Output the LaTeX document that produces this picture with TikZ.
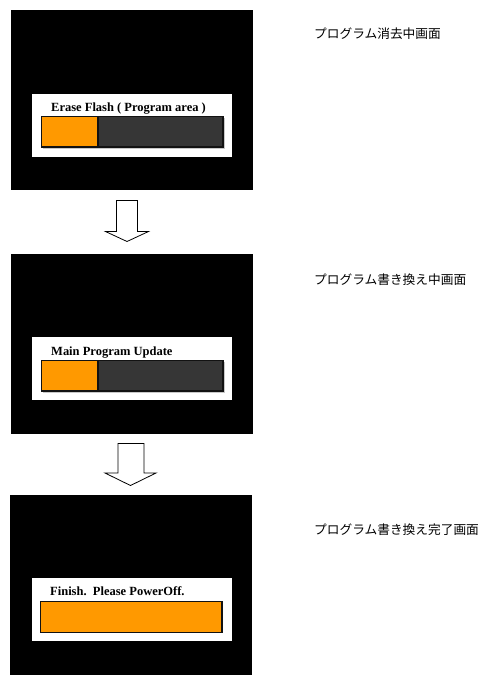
\documentclass[tikz,border=0pt]{standalone}
\usepackage{fontspec}
\newfontfamily\jpfont{Noto Sans CJK JP}
\newfontfamily\panelfont{Liberation Serif}
\definecolor{barorange}{HTML}{FF9900}
\definecolor{bargray}{HTML}{363636}
\definecolor{barshadow}{HTML}{C8C8C8}
\begin{document}
\begin{tikzpicture}[x=1pt,y=-1pt,
  screen/.style={fill=black,draw=none,inner sep=0pt,outer sep=0pt,anchor=north west,minimum width=242pt,minimum height=180pt},
  panel/.style={fill=white,draw=none,inner sep=0pt,outer sep=0pt,anchor=north west,minimum width=200pt,minimum height=63pt},
  paneltext/.style={anchor=base west,inner sep=0pt,font=\panelfont\bfseries\fontsize{12.5}{14}\selectfont},
  label/.style={anchor=base west,inner sep=0pt,font=\jpfont\fontsize{12.7}{15}\selectfont},
  bararrow/.style={fill=white,draw=black,line width=0.8pt,line join=miter},
  barframe/.style={draw=black!93,line width=1.6pt}
]
\useasboundingbox (0,0) rectangle (488,686);

% ---- screen 1
\node[screen] (s1) at (11,10) {};
\node[panel] (p1) at (32,93.5) {};
\node[paneltext] (t1) at (51,111) {Erase Flash ( Program area )};
\fill[barshadow] (42.5,117.5) rectangle (224.5,148.5);
\fill[bargray] (41.5,116.5) rectangle (223,147);
\fill[barorange] (41.5,116.5) rectangle (98,147);
\draw[barframe] (98,116.5) -- (98,147);
\draw[barframe] (41.5,116.5) rectangle (223,147);
\node[label] (l1) at (314,38) {プログラム消去中画面};

% ---- arrow 1
\draw[bararrow] (116.5,200.5) -- (137.5,200.5) -- (137.5,231.5) -- (148.5,231.5)
  -- (127,241.5) -- (105.5,231.5) -- (116.5,231.5) -- cycle;

% ---- screen 2
\node[screen] (s2) at (11,254) {};
\node[panel] (p2) at (32,337) {};
\node[paneltext] (t2) at (51,355) {Main Program Update};
\fill[barshadow] (42.5,361.5) rectangle (224.5,392.5);
\fill[bargray] (41.5,360.5) rectangle (223,391);
\fill[barorange] (41.5,360.5) rectangle (98,391);
\draw[barframe] (98,360.5) -- (98,391);
\draw[barframe] (41.5,360.5) rectangle (223,391);
\node[label] (l2) at (314,284) {プログラム書き換え中画面};

% ---- arrow 2
\draw[bararrow] (118,443.5) -- (144,443.5) -- (144,473) -- (156,473)
  -- (130.5,485.5) -- (105,473) -- (118,473) -- cycle;

% ---- screen 3
\node[screen] (s3) at (10,495) {};
\node[panel] (p3) at (31.5,578) {};
\node[paneltext] (t3) at (50,595.7) {Finish.\ \ Please PowerOff.};
\fill[barshadow] (39.5,601.5) rectangle (221.5,632.5);
\fill[barorange] (40.5,601.5) rectangle (222,632.5);
\draw[barframe] (40.5,601.5) rectangle (222,632.5);
\node[label] (l3) at (314,534) {プログラム書き換え完了画面};
\end{tikzpicture}
\end{document}
